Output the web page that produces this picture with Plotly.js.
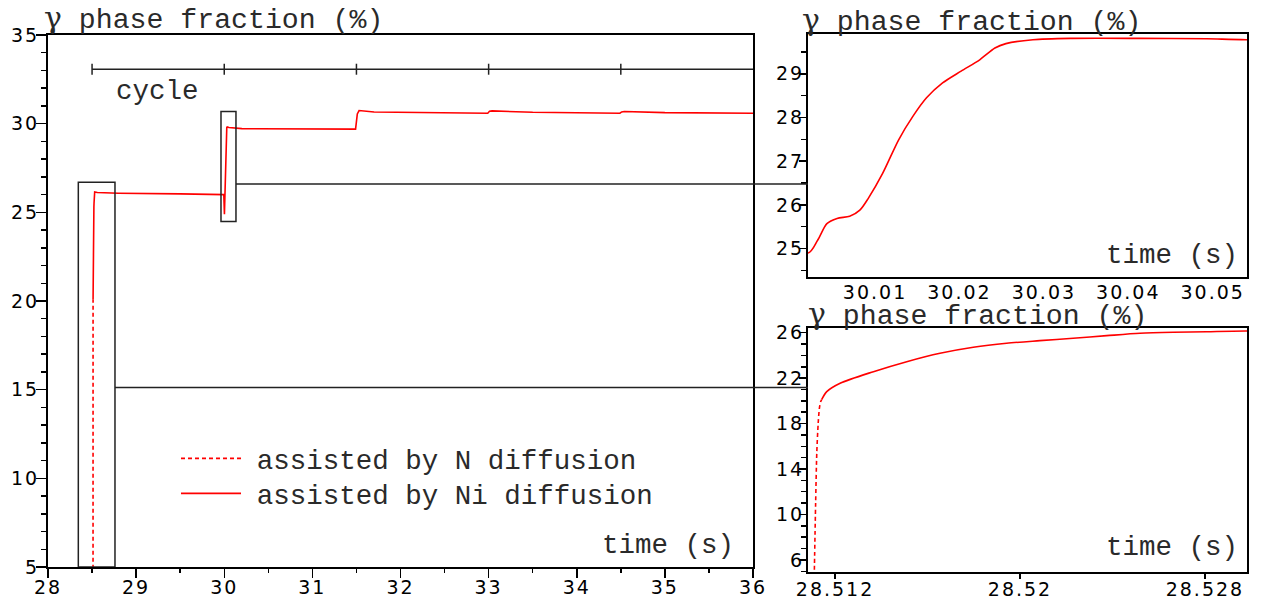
<!DOCTYPE html>
<html>
<head>
<meta charset="utf-8">
<script src="https://cdn.plot.ly/plotly-3.0.1.min.js"></script>
<style>
html,body{margin:0;padding:0;background:#fff;}
#chart{width:1266px;height:602px;}
</style>
</head>
<body>
<div id="chart"></div>
<script>
// ---- data ----
// gamma phase fraction (%) vs time (s)
var nT = [28.5111, 28.51116, 28.51121, 28.51127, 28.51132, 28.51137, 28.51142];
var nV = [4.5, 11.0, 15.4, 18.0, 19.3, 19.9, 20.1];

var niT = [28.51142, 28.51164, 28.51222, 28.51366, 28.5151, 28.51654, 28.51798, 28.51942, 28.52086, 28.5223,
  28.52375, 28.52519, 28.52663, 28.52807, 28.52976, 28.56, 28.8, 29.5, 29.995,
  30.00206, 30.0032, 30.0043, 30.0055, 30.0070, 30.0082, 30.0092, 30.0109, 30.0128, 30.0145,
  30.0161, 30.0180, 30.0202, 30.0224, 30.0242, 30.0255, 30.0287, 30.0334, 30.0414, 30.0493, 30.0540,
  30.2, 31.0, 31.49, 31.51, 31.53, 31.7, 32.5, 32.99, 33.01, 33.04, 33.5, 34.49, 34.51, 34.54, 35.0, 36.0];
var niV = [20.1, 20.81, 21.55, 22.57, 23.45, 24.19, 24.72, 25.07, 25.30, 25.51,
  25.74, 25.95, 26.04, 26.09, 26.15, 26.12, 26.08, 26.04, 26.0,
  24.90, 25.19, 25.57, 25.69, 25.74, 25.88, 26.15, 26.72, 27.49, 28.03,
  28.45, 28.79, 29.06, 29.32, 29.59, 29.69, 29.78, 29.81, 29.81, 29.80, 29.78,
  29.72, 29.70, 29.69, 30.55, 30.74, 30.66, 30.61, 30.59, 30.70, 30.72, 30.64, 30.59, 30.66, 30.69, 30.62, 30.59];

var cycleT = [28.5, 30, 31.5, 33, 34.5];
var cycleEnd = 36;
var cycleLevel = 33.07;

var seriesNames = ['assisted by N diffusion', 'assisted by Ni diffusion'];

// tick labels
var mainXTicks = [28, 29, 30, 31, 32, 33, 34, 35, 36];
var mainYTicks = [5, 10, 15, 20, 25, 30, 35];
var topXTicks = [30.01, 30.02, 30.03, 30.04, 30.05];
var topXText = ['30.01', '30.02', '30.03', '30.04', '30.05'];
var topYTicks = [25, 26, 27, 28, 29];
var botXTicks = [28.512, 28.52, 28.528];
var botXText = ['28.512', '28.52', '28.528'];
var botYTicks = [6, 10, 14, 18, 22, 26];

// zoom boxes on main chart [t0, t1, v0, v1]
var box1 = [28.344, 28.76, 5, 26.7];
var box2 = [29.963, 30.133, 24.48, 30.68];

// ---- styles ----
var W = 1266, H = 602;
function px(x){ return x / W; }
function py(y){ return 1 - y / H; }
var RED = '#ff0000';
var INK = '#222222';
var mono = {family: 'Liberation Mono, Courier New, monospace', size: 27.5, color: '#2a2a2a'};
var monoTitle = {family: 'Liberation Mono, Courier New, monospace', size: 28.2, color: '#2a2a2a'};
var tickFont = {family: 'DejaVu Sans, sans-serif', size: 19, color: '#000'};
var GAMMA = '<span style="font-family:\'DejaVu Serif\', serif;font-size:30px">γ</span>';

function nTrace(xa, ya, show, lg, smooth){
  return {x: nT, y: nV, xaxis: xa, yaxis: ya, type: 'scatter', mode: 'lines',
    name: '<span style="font-size:18px">&nbsp;</span>' + seriesNames[0], showlegend: show, legend: lg,
    line: {color: RED, width: 1.6, dash: '4px,3px', shape: smooth ? 'spline' : 'linear', smoothing: 0.8},
    hoverinfo: 'x+y'};
}
function niTrace(xa, ya, show, lg, smooth){
  return {x: niT, y: niV, xaxis: xa, yaxis: ya, type: 'scatter', mode: 'lines',
    name: '<span style="font-size:18px">&nbsp;</span>' + seriesNames[1], showlegend: show, legend: lg,
    line: {color: RED, width: 1.6, shape: smooth ? 'spline' : 'linear', smoothing: 0.8},
    hoverinfo: 'x+y'};
}

var data = [
  nTrace('x', 'y', true, 'legend', false), niTrace('x', 'y', true, 'legend2', false),
  nTrace('x2', 'y2', false, 'legend', true), niTrace('x2', 'y2', false, 'legend', true),
  nTrace('x3', 'y3', false, 'legend', true), niTrace('x3', 'y3', false, 'legend', true)
];

function axisBase(){
  return {showgrid: false, zeroline: false, showline: true, linecolor: '#000', linewidth: 2,
    mirror: true, ticks: 'outside', tickcolor: '#000', tickwidth: 1.5, tickfont: tickFont,
    fixedrange: true};
}

var xaxis = Object.assign(axisBase(), {domain: [px(48), px(753)], anchor: 'y', range: [28, 36],
  tickmode: 'array', tickvals: mainXTicks, ticktext: mainXTicks.map(String), ticklen: 9,
  ticklabelstandoff: -7,
  minor: {dtick: 0.5, tick0: 28, ticklen: 4, ticks: 'outside', tickcolor: '#000', tickwidth: 1.5}});
var yaxis = Object.assign(axisBase(), {domain: [py(567), py(35)], anchor: 'x', range: [5, 35],
  tickmode: 'array', tickvals: mainYTicks, ticktext: mainYTicks.map(String), ticklen: 10,
  ticklabelstandoff: -7,
  minor: {dtick: 1, tick0: 5, ticklen: 5, ticks: 'outside', tickcolor: '#000', tickwidth: 1.5}});

var xaxis2 = Object.assign(axisBase(), {domain: [px(808), px(1247)], anchor: 'y2', range: [30.00206, 30.05406],
  tickmode: 'array', tickvals: topXTicks, ticktext: topXText, ticks: '', ticklabelstandoff: -3});
var yaxis2 = Object.assign(axisBase(), {domain: [py(277), py(34)], anchor: 'x2', range: [24.35, 29.91],
  tickmode: 'array', tickvals: topYTicks, ticktext: topYTicks.map(String), ticklen: 7,
  ticklabelstandoff: -9,
  minor: {dtick: 0.5, tick0: 24.5, ticklen: 5, ticks: 'outside', tickcolor: '#000', tickwidth: 1.5}});

var xaxis3 = Object.assign(axisBase(), {domain: [px(808), px(1247)], anchor: 'y3', range: [28.51083, 28.52982],
  tickmode: 'array', tickvals: botXTicks, ticktext: botXText, ticklen: 5, ticklabelstandoff: -6});
var yaxis3 = Object.assign(axisBase(), {domain: [py(571.7), py(327.7)], anchor: 'x3', range: [4.96, 26.44],
  tickmode: 'array', tickvals: botYTicks, ticktext: botYTicks.map(String), ticklen: 7,
  ticklabelstandoff: -9,
  minor: {dtick: 1, tick0: 5, ticklen: 5, ticks: 'outside', tickcolor: '#000', tickwidth: 1.5}});

var shapes = [];
// cycle bar
shapes.push({type: 'line', xref: 'x', yref: 'y', x0: cycleT[0], x1: cycleEnd, y0: cycleLevel, y1: cycleLevel,
  line: {color: INK, width: 1.5}});
cycleT.forEach(function(t){
  shapes.push({type: 'line', xref: 'x', yref: 'y', x0: t, x1: t, y0: cycleLevel - 0.31, y1: cycleLevel + 0.31,
    line: {color: INK, width: 1.5}});
});
// zoom boxes
[box1, box2].forEach(function(b){
  shapes.push({type: 'rect', xref: 'x', yref: 'y', x0: b[0], x1: b[1], y0: b[2], y1: b[3],
    line: {color: INK, width: 1.5}, fillcolor: 'rgba(0,0,0,0)', layer: 'above'});
});
// connectors from boxes to insets
shapes.push({type: 'line', xref: 'paper', yref: 'paper', x0: px(236), x1: px(808), y0: py(184), y1: py(184),
  line: {color: INK, width: 1.5}});
shapes.push({type: 'line', xref: 'paper', yref: 'paper', x0: px(115), x1: px(808), y0: py(387.5), y1: py(387.5),
  line: {color: INK, width: 1.5}});

function label(text, x, y, anchor, font){
  return {text: text, xref: 'paper', yref: 'paper', x: x, y: y, xanchor: anchor, yanchor: 'middle',
    showarrow: false, font: font || mono, borderpad: 0};
}
var annotations = [
  label(GAMMA + ' phase fraction (%)', px(43), py(18), 'left', monoTitle),
  label(GAMMA + ' phase fraction (%)', px(801), py(20), 'left', monoTitle),
  label(GAMMA + ' phase fraction (%)', px(807), py(314), 'left', monoTitle),
  label('cycle', px(115), py(91), 'left'),
  label('time (s)', px(735), py(545), 'right'),
  label('time (s)', px(1239), py(255), 'right'),
  label('time (s)', px(1239), py(547), 'right')
];

function legendBox(top){
  return {x: px(176), y: py(top), xanchor: 'left', yanchor: 'top', bgcolor: 'rgba(0,0,0,0)',
    font: mono, itemwidth: 60, tracegroupgap: 0, borderwidth: 0};
}

var layout = {
  width: W, height: H,
  margin: {l: 0, r: 0, t: 0, b: 0},
  paper_bgcolor: '#fff', plot_bgcolor: '#fff',
  showlegend: true,
  legend: legendBox(434),
  legend2: legendBox(469),
  xaxis: xaxis, yaxis: yaxis, xaxis2: xaxis2, yaxis2: yaxis2, xaxis3: xaxis3, yaxis3: yaxis3,
  shapes: shapes, annotations: annotations
};

Plotly.newPlot('chart', data, layout, {displayModeBar: false, staticPlot: true}).then(function(gd){
  var els = gd.querySelectorAll('.xaxislayer-above text, .yaxislayer-above text');
  for (var i = 0; i < els.length; i++) { els[i].style.letterSpacing = '2px'; }
});
</script>
</body>
</html>
